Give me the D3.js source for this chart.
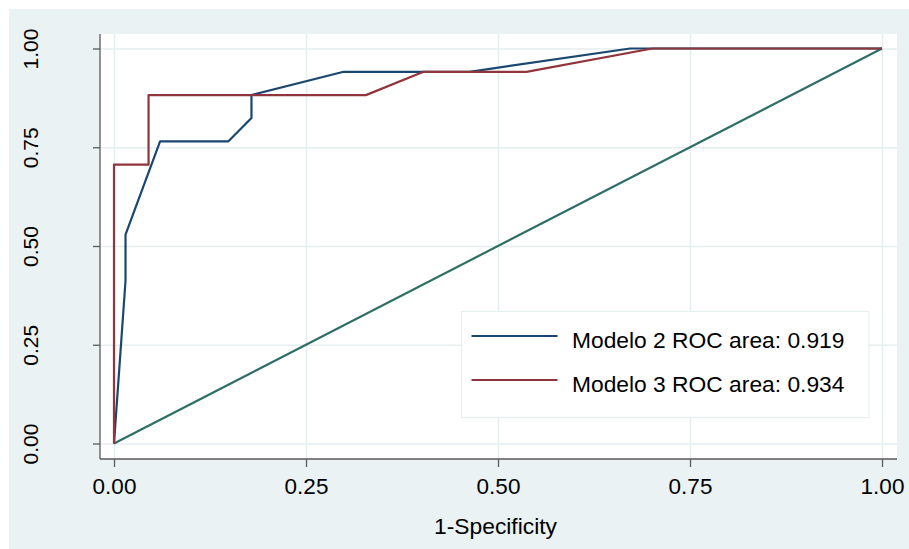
<!DOCTYPE html>
<html>
<head>
<meta charset="utf-8">
<script src="https://cdn.jsdelivr.net/npm/d3@7"></script>
<style>
  html, body { margin: 0; padding: 0; background: #ffffff; }
  svg { display: block; }
  text { font-family: "Liberation Sans", Arial, sans-serif; fill: #000; }
</style>
</head>
<body>
<svg id="chart" width="909" height="549"></svg>
<script>
// ROC curves: false positive rate (1-Specificity) vs sensitivity
const modelo2Fpr = [0, 0.015, 0.015, 0.060, 0.149, 0.179, 0.179, 0.299, 0.463, 0.672, 1];
const modelo2Tpr = [0, 0.412, 0.529, 0.765, 0.765, 0.824, 0.882, 0.941, 0.941, 1, 1];
const modelo3Fpr = [0, 0, 0.045, 0.045, 0.328, 0.403, 0.537, 0.701, 1];
const modelo3Tpr = [0, 0.706, 0.706, 0.882, 0.882, 0.941, 0.941, 1, 1];
const referenceFpr = [0, 1];
const referenceTpr = [0, 1];

const seriesNames = ["Modelo 2 ROC area: 0.919", "Modelo 3 ROC area: 0.934"];
const xTicks = [0, 0.25, 0.5, 0.75, 1];
const yTicks = [0, 0.25, 0.5, 0.75, 1];
const xTitle = "1-Specificity";

const colors = { m2: "#1a476f", m3: "#90353b", ref: "#2e6e64",
                 bg: "#eaf2f3", grid: "#e6eef0", axis: "#5a5a5a" };

const svg = d3.select("#chart");

// graph region and plot region
svg.append("rect").attr("x", 9).attr("y", 9).attr("width", 900).attr("height", 540)
  .attr("fill", colors.bg);
const plot = { left: 100, right: 897, top: 34, bottom: 459 };
svg.append("rect").attr("x", plot.left).attr("y", plot.top)
  .attr("width", plot.right - plot.left).attr("height", plot.bottom - plot.top)
  .attr("fill", "#ffffff");

const x = d3.scaleLinear().domain([0, 1]).range([114, 882]);
const y = d3.scaleLinear().domain([0, 1]).range([443.5, 48.5]);

// grid lines
const gx = svg.append("g").attr("transform", `translate(0,${plot.top})`)
  .call(d3.axisBottom(x).tickValues(xTicks).tickSize(plot.bottom - plot.top).tickFormat(""));
const gy = svg.append("g").attr("transform", `translate(${plot.left},0)`)
  .call(d3.axisRight(y).tickValues(yTicks).tickSize(plot.right - plot.left).tickFormat(""));
[gx, gy].forEach(g => {
  g.select(".domain").remove();
  g.selectAll("line").attr("stroke", colors.grid).attr("stroke-width", 1.6);
});

// curves
const line = d3.line().x(d => x(d[0])).y(d => y(d[1]));
const toPts = (a, b) => a.map((v, i) => [v, b[i]]);

svg.append("path").datum(toPts(referenceFpr, referenceTpr)).attr("d", line)
  .attr("fill", "none").attr("stroke", colors.ref).attr("stroke-width", 2.2);
svg.append("path").datum(toPts(modelo2Fpr, modelo2Tpr)).attr("d", line)
  .attr("fill", "none").attr("stroke", colors.m2).attr("stroke-width", 2.2)
  .attr("stroke-linejoin", "round");
svg.append("path").datum(toPts(modelo3Fpr, modelo3Tpr)).attr("d", line)
  .attr("fill", "none").attr("stroke", colors.m3).attr("stroke-width", 2.2)
  .attr("stroke-linejoin", "round");

// axes
const fmt = d3.format(".2f");
const xAxis = svg.append("g").attr("transform", `translate(0,${plot.bottom})`)
  .call(d3.axisBottom(x).tickValues(xTicks).tickFormat(fmt).tickSizeOuter(0).tickSize(8));
xAxis.select(".domain").attr("d", `M${plot.left},0H${plot.right}`)
  .attr("stroke", colors.axis).attr("stroke-width", 1.3);
xAxis.selectAll(".tick line").attr("stroke", colors.axis).attr("stroke-width", 1.3);
xAxis.selectAll(".tick text").attr("y", 35).attr("dy", 0)
  .style("font-size", "22.5px").attr("fill", "#000");

const yAxis = svg.append("g").attr("transform", `translate(${plot.left},0)`)
  .call(d3.axisLeft(y).tickValues(yTicks).tickFormat(fmt).tickSizeOuter(0).tickSize(7));
yAxis.select(".domain").attr("d", `M0,${plot.top}V${plot.bottom}`)
  .attr("stroke", colors.axis).attr("stroke-width", 1.3);
yAxis.selectAll(".tick line").attr("stroke", colors.axis).attr("stroke-width", 1.3);
yAxis.selectAll(".tick text")
  .attr("transform", "rotate(-90)")
  .attr("text-anchor", "middle")
  .attr("x", 0).attr("y", -62.5).attr("dy", 0)
  .style("font-size", "21px").attr("fill", "#000");

svg.append("text").attr("x", 495.5).attr("y", 534.3).attr("text-anchor", "middle")
  .style("font-size", "22.8px").text(xTitle);

// legend
const legend = svg.append("g");
legend.append("rect").attr("x", 461.5).attr("y", 311.5).attr("width", 407.5).attr("height", 106)
  .attr("fill", "#ffffff").attr("stroke", colors.grid).attr("stroke-width", 1.2);
const legendColors = [colors.m2, colors.m3];
const rows = legend.selectAll("g.row").data(seriesNames).join("g")
  .attr("class", "row")
  .attr("transform", (d, i) => `translate(0,${336 + i * 44})`);
rows.append("line").attr("x1", 471.5).attr("x2", 557.5).attr("y1", 0).attr("y2", 0)
  .attr("stroke", (d, i) => legendColors[i]).attr("stroke-width", 2.2);
rows.append("text").attr("x", 572).attr("y", 11.5)
  .style("font-size", "22.8px").text(d => d);
</script>
</body>
</html>
